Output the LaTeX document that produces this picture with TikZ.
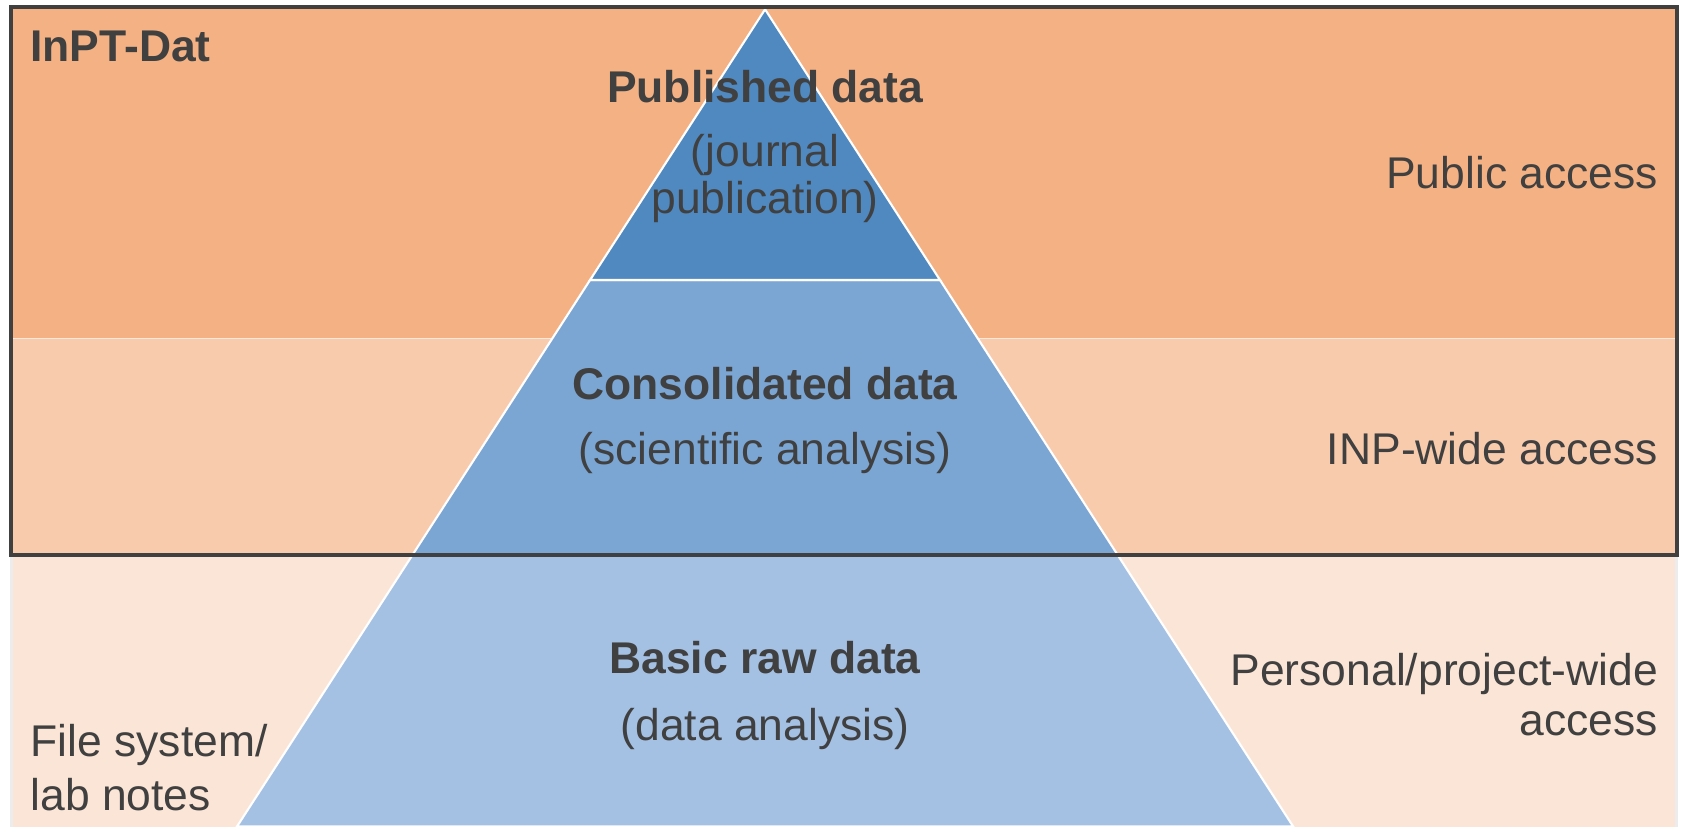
\documentclass[tikz,border=0pt]{standalone}
\usepackage{fontspec}
\setmainfont{Liberation Sans}
\usetikzlibrary{positioning}

\definecolor{bandtop}{HTML}{F4B183}
\definecolor{bandmid}{HTML}{F8CBAD}
\definecolor{bandlow}{HTML}{FBE5D6}
\definecolor{pyrtop}{HTML}{5089C0}
\definecolor{pyrmid}{HTML}{7BA6D3}
\definecolor{pyrlow}{HTML}{A4C1E4}
\definecolor{darkgrey}{HTML}{404040}

\begin{document}
\begin{tikzpicture}[x=0.5pt,y=-0.5pt]
\tikzstyle{every node}=[inner sep=0pt, text=darkgrey, font=\fontsize{20.7}{25}\selectfont];
\tikzstyle{title}=[font=\fontsize{20.7}{25}\selectfont\bfseries];
\tikzstyle{layer}=[draw=white, line width=1pt];
\useasboundingbox (0,0) rectangle (1568,770);
\fill[white] (0,0) rectangle (1568,770);
% access levels
\path[draw=gray!15, line width=1.5pt, fill=bandlow] (10.5,517) rectangle (1562,780);
\path[draw=white!55!bandmid, line width=0.8pt, fill=bandtop] (10.5,6.5) rectangle (1562,315.5);
\path[draw=white!55!bandmid, line width=0.8pt, fill=bandmid] (10.5,315.5) rectangle (1562,517);
% pyramid
\coordinate (apex) at (712.8,8.7);
\coordinate (topl) at (549.7,260.9);
\coordinate (topr) at (875.8,260.9);
\coordinate (midl) at (384.3,517);
\coordinate (midr) at (1041.3,517);
\coordinate (lowl) at (220.8,770);
\coordinate (lowr) at (1204.8,770);
\path[layer, fill=pyrlow] (midl) -- (midr) -- (lowr) -- (lowl) -- cycle;
\path[layer, fill=pyrmid] (topl) -- (topr) -- (midr) -- (midl) -- cycle;
\path[layer, fill=pyrtop] (apex) -- (topr) -- (topl) -- cycle;
% InPT-Dat frame
\draw[darkgrey, line width=1.85pt] (10.5,6.5) rectangle (1562,517);

\node[title, anchor=base west] (inptdat) at (28,57) {InPT-Dat};

\node[title, anchor=base] (published) at (712.8,95.3) {Published data};
\node[align=center, font=\fontsize{20.7}{22}\selectfont] (journal) [below=51.85pt of published.base, anchor=base] {(journal\\publication)};

\node[title, anchor=base] (consolidated) at (712.8,372.6) {Consolidated data};
\node (scientific) [below=30.2pt of consolidated.base, anchor=base] {(scientific analysis)};

\node[title, anchor=base] (basic) at (712.8,627.5) {Basic raw data};
\node (dataanalysis) [below=31.2pt of basic.base, anchor=base] {(data analysis)};

\node[anchor=base east] (public) at (1545,176) {Public access};
\node[anchor=base east] (inpwide) at (1545,433) {INP-wide access};
\node[anchor=base east, align=right, font=\fontsize{20.7}{23}\selectfont] (personal) at (1545,685) {Personal/project-wide\\access};
\node[anchor=base west, align=left, font=\fontsize{20.7}{25}\selectfont] (filesystem) at (28,755) {File system/\\lab notes};
\end{tikzpicture}
\end{document}
